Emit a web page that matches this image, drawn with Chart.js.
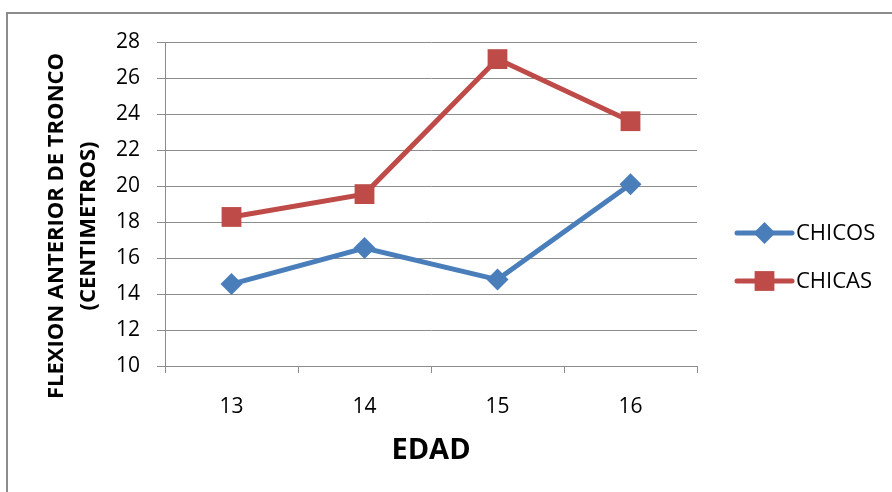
<!DOCTYPE html>
<html>
<head>
<meta charset="utf-8">
<script src="https://cdn.jsdelivr.net/npm/chart.js@4.4.1/dist/chart.umd.min.js"></script>
<style>
  html, body { margin: 0; padding: 0; background: #fff; }
  #wrap { width: 892px; height: 492px; }
</style>
</head>
<body>
<div id="wrap"><canvas id="myChart" width="892" height="492"></canvas></div>
<script>
// edades y medidas de flexion (cm)
var edades = ['13', '14', '15', '16'];
var chicos = [14.55, 16.55, 14.8, 20.1];
var chicas = [18.28, 19.55, 27.05, 23.6];
var yMin = 10, yMax = 28, yStep = 2;
var tituloY = ['FLEXION ANTERIOR DE TRONCO', '(CENTIMETROS)'];

var FONT = '"Open Sans", sans-serif';
var GRID = '#8c8c8c';

// marco gris del grafico (solo arriba e izquierda visibles)
var frame = {
    id: 'frame',
    beforeDraw: function(chart) {
        var ctx = chart.ctx;
        ctx.save();
        ctx.strokeStyle = '#8c8c8c';
        ctx.lineWidth = 2;
        ctx.beginPath();
        ctx.moveTo(7, chart.height);
        ctx.lineTo(7, 13);
        ctx.lineTo(chart.width, 13);
        ctx.stroke();
        ctx.restore();
    }
};

// titulo vertical del eje Y, centrado en la altura del marco
var yTitle = {
    id: 'yTitle',
    afterDraw: function(chart) {
        var ctx = chart.ctx;
        var cy = 226, xs = [57, 89];
        ctx.save();
        ctx.fillStyle = '#000';
        ctx.font = 'bold 22px ' + FONT;
        ctx.textAlign = 'center';
        ctx.textBaseline = 'middle';
        tituloY.forEach(function(t, i) {
            ctx.save();
            ctx.translate(xs[i], cy);
            ctx.rotate(-Math.PI / 2);
            ctx.fillText(t, 0, 0);
            ctx.restore();
        });
        ctx.restore();
    }
};

// leyenda a la derecha con linea + marcador
var sideLegend = {
    id: 'sideLegend',
    afterDraw: function(chart) {
        var ctx = chart.ctx;
        var x0 = 737, x1 = 792, y = 233, gap = 48;
        ctx.save();
        chart.data.datasets.forEach(function(ds, i) {
            var yy = y + i * gap;
            ctx.strokeStyle = ds.borderColor;
            ctx.lineWidth = ds.borderWidth;
            ctx.lineCap = 'round';
            ctx.beginPath();
            ctx.moveTo(x0, yy);
            ctx.lineTo(x1, yy);
            ctx.stroke();
            ctx.fillStyle = ds.pointBackgroundColor;
            ctx.strokeStyle = ds.pointBackgroundColor;
            Chart.helpers.drawPoint(ctx, {
                pointStyle: ds.pointStyle,
                radius: ds.pointRadius,
                rotation: 0,
                borderWidth: 0
            }, (x0 + x1) / 2, yy);
            ctx.fillStyle = '#000';
            ctx.font = '22px ' + FONT;
            ctx.textBaseline = 'middle';
            ctx.textAlign = 'left';
            ctx.fillText(ds.label, x1 + 4, yy + 1);
        });
        ctx.restore();
    }
};

new Chart('myChart', {
    type: 'line',
    data: {
        labels: edades,
        datasets: [{
            label: 'CHICOS',
            data: chicos,
            borderColor: '#4a7ebb',
            backgroundColor: '#4a7ebb',
            pointBackgroundColor: '#4a7ebb',
            borderWidth: 5,
            pointStyle: 'rectRot',
            pointRadius: 11,
            pointHoverRadius: 11,
            pointBorderWidth: 0
        }, {
            label: 'CHICAS',
            data: chicas,
            borderColor: '#be4b48',
            backgroundColor: '#be4b48',
            pointBackgroundColor: '#be4b48',
            borderWidth: 5,
            pointStyle: 'rect',
            pointRadius: 14,
            pointHoverRadius: 14,
            pointBorderWidth: 0
        }]
    },
    options: {
        responsive: false,
        animation: false,
        events: [],
        layout: { padding: { left: 0, top: 42, right: 195, bottom: 0 } },
        plugins: {
            legend: { display: false },
            tooltip: { enabled: false }
        },
        scales: {
            x: {
                offset: true,
                grid: {
                    offset: true,
                    drawOnChartArea: false,
                    color: GRID,
                    tickLength: 7,
                    lineWidth: 1
                },
                border: { color: GRID, width: 1 },
                ticks: {
                    color: '#000',
                    font: { family: FONT, size: 21 },
                    padding: 21
                },
                title: {
                    display: true,
                    text: 'EDAD',
                    color: '#000',
                    font: { family: FONT, size: 29, weight: 'bold' },
                    padding: { top: 0, bottom: 24 }
                },
                afterFit: function(scale) { scale.height = 126; }
            },
            y: {
                min: yMin,
                max: yMax,
                grid: {
                    color: GRID,
                    tickLength: 8,
                    lineWidth: 1
                },
                border: { color: GRID, width: 1 },
                ticks: {
                    stepSize: yStep,
                    color: '#000',
                    font: { family: FONT, size: 21 },
                    padding: 17
                },
                afterFit: function(scale) { scale.width = 165; }
            }
        }
    },
    plugins: [frame, yTitle, sideLegend]
});
</script>
</body>
</html>
